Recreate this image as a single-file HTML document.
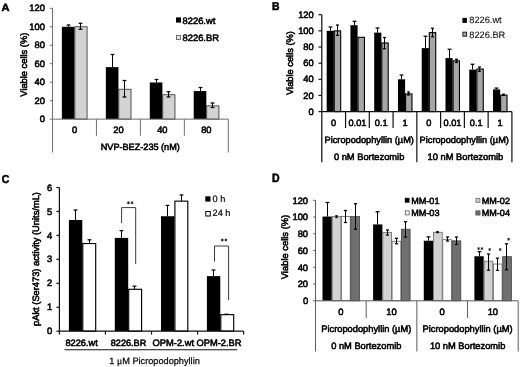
<!DOCTYPE html>
<html><head><meta charset="utf-8"><title>Figure</title>
<style>
html,body{margin:0;padding:0;background:#fff;}
body{width:520px;height:367px;overflow:hidden;font-family:"Liberation Sans", sans-serif;}
svg{display:block;filter:blur(0.35px);font-family:"Liberation Sans", sans-serif;text-rendering:geometricPrecision;}
text{stroke:#000;stroke-width:0.55px;}
</style></head><body>
<svg width="520" height="367" viewBox="0 0 520 367">
<rect x="0" y="0" width="520" height="367" fill="#fff"/>
<line x1="68.50" y1="25.00" x2="68.50" y2="26.78" stroke="#000" stroke-width="1.05"/>
<line x1="66.60" y1="25.00" x2="70.40" y2="25.00" stroke="#000" stroke-width="1.26"/>
<rect x="61.87" y="26.78" width="12.60" height="92.38" fill="#000"/>
<rect x="74.88" y="26.78" width="12.20" height="92.38" fill="#d3d3d3" stroke="#222" stroke-width="0.75"/>
<line x1="80.50" y1="23.25" x2="80.50" y2="29.25" stroke="#000" stroke-width="1.05"/>
<line x1="78.60" y1="23.25" x2="82.40" y2="23.25" stroke="#000" stroke-width="1.26"/>
<line x1="78.60" y1="29.25" x2="82.40" y2="29.25" stroke="#000" stroke-width="1.26"/>
<line x1="112.50" y1="54.50" x2="112.50" y2="67.14" stroke="#000" stroke-width="1.05"/>
<line x1="110.60" y1="54.50" x2="114.40" y2="54.50" stroke="#000" stroke-width="1.26"/>
<rect x="105.83" y="67.14" width="12.60" height="52.01" fill="#000"/>
<rect x="118.83" y="89.22" width="12.20" height="29.93" fill="#d3d3d3" stroke="#222" stroke-width="0.75"/>
<line x1="124.50" y1="80.50" x2="124.50" y2="97.00" stroke="#000" stroke-width="1.05"/>
<line x1="122.60" y1="80.50" x2="126.40" y2="80.50" stroke="#000" stroke-width="1.26"/>
<line x1="122.60" y1="97.00" x2="126.40" y2="97.00" stroke="#000" stroke-width="1.26"/>
<line x1="156.50" y1="79.50" x2="156.50" y2="82.48" stroke="#000" stroke-width="1.05"/>
<line x1="154.60" y1="79.50" x2="158.40" y2="79.50" stroke="#000" stroke-width="1.26"/>
<rect x="149.78" y="82.48" width="12.60" height="36.67" fill="#000"/>
<rect x="162.78" y="94.76" width="12.20" height="24.39" fill="#d3d3d3" stroke="#222" stroke-width="0.75"/>
<line x1="168.50" y1="91.75" x2="168.50" y2="97.00" stroke="#000" stroke-width="1.05"/>
<line x1="166.60" y1="91.75" x2="170.40" y2="91.75" stroke="#000" stroke-width="1.26"/>
<line x1="166.60" y1="97.00" x2="170.40" y2="97.00" stroke="#000" stroke-width="1.26"/>
<line x1="200.50" y1="87.50" x2="200.50" y2="91.07" stroke="#000" stroke-width="1.05"/>
<line x1="198.60" y1="87.50" x2="202.40" y2="87.50" stroke="#000" stroke-width="1.26"/>
<rect x="193.73" y="91.07" width="12.60" height="28.08" fill="#000"/>
<rect x="206.73" y="105.85" width="12.20" height="13.30" fill="#d3d3d3" stroke="#222" stroke-width="0.75"/>
<line x1="212.50" y1="103.00" x2="212.50" y2="107.50" stroke="#000" stroke-width="1.05"/>
<line x1="210.60" y1="103.00" x2="214.40" y2="103.00" stroke="#000" stroke-width="1.26"/>
<line x1="210.60" y1="107.50" x2="214.40" y2="107.50" stroke="#000" stroke-width="1.26"/>
<line x1="52.50" y1="8.30" x2="52.50" y2="152.50" stroke="#6e6e6e" stroke-width="1"/>
<line x1="52.50" y1="119.15" x2="228.30" y2="119.15" stroke="#6e6e6e" stroke-width="1"/>
<line x1="228.30" y1="119.15" x2="228.30" y2="152.50" stroke="#6e6e6e" stroke-width="1"/>
<line x1="96.45" y1="119.15" x2="96.45" y2="135.75" stroke="#6e6e6e" stroke-width="1"/>
<line x1="140.40" y1="119.15" x2="140.40" y2="135.75" stroke="#6e6e6e" stroke-width="1"/>
<line x1="184.35" y1="119.15" x2="184.35" y2="135.75" stroke="#6e6e6e" stroke-width="1"/>
<line x1="49.80" y1="119.15" x2="52.50" y2="119.15" stroke="#6e6e6e" stroke-width="1"/>
<text x="45.00" y="122.05" font-size="9.4" text-anchor="end" font-weight="normal" fill="#000" >0</text>
<line x1="49.80" y1="100.68" x2="52.50" y2="100.68" stroke="#6e6e6e" stroke-width="1"/>
<text x="45.00" y="103.58" font-size="9.4" text-anchor="end" font-weight="normal" fill="#000" >20</text>
<line x1="49.80" y1="82.20" x2="52.50" y2="82.20" stroke="#6e6e6e" stroke-width="1"/>
<text x="45.00" y="85.10" font-size="9.4" text-anchor="end" font-weight="normal" fill="#000" >40</text>
<line x1="49.80" y1="63.73" x2="52.50" y2="63.73" stroke="#6e6e6e" stroke-width="1"/>
<text x="45.00" y="66.62" font-size="9.4" text-anchor="end" font-weight="normal" fill="#000" >60</text>
<line x1="49.80" y1="45.25" x2="52.50" y2="45.25" stroke="#6e6e6e" stroke-width="1"/>
<text x="45.00" y="48.15" font-size="9.4" text-anchor="end" font-weight="normal" fill="#000" >80</text>
<line x1="49.80" y1="26.78" x2="52.50" y2="26.78" stroke="#6e6e6e" stroke-width="1"/>
<text x="45.00" y="29.68" font-size="9.4" text-anchor="end" font-weight="normal" fill="#000" >100</text>
<line x1="49.80" y1="8.30" x2="52.50" y2="8.30" stroke="#6e6e6e" stroke-width="1"/>
<text x="45.00" y="11.20" font-size="9.4" text-anchor="end" font-weight="normal" fill="#000" >120</text>
<text x="74.47" y="132.70" font-size="9.3" text-anchor="middle" font-weight="normal" fill="#000" >0</text>
<text x="118.43" y="132.70" font-size="9.3" text-anchor="middle" font-weight="normal" fill="#000" >20</text>
<text x="162.38" y="132.70" font-size="9.3" text-anchor="middle" font-weight="normal" fill="#000" >40</text>
<text x="206.33" y="132.70" font-size="9.3" text-anchor="middle" font-weight="normal" fill="#000" >80</text>
<text x="140.30" y="150.00" font-size="9.15" text-anchor="middle" font-weight="normal" fill="#000" >NVP-BEZ-235 (nM)</text>
<rect x="176.00" y="17.40" width="5.00" height="5.20" fill="#000"/>
<text x="182.50" y="23.60" font-size="9.4" text-anchor="start" font-weight="normal" fill="#000" >8226.wt</text>
<rect x="176.50" y="35.30" width="3.90" height="4.30" fill="#dedede" stroke="#555" stroke-width="0.8"/>
<text x="182.50" y="40.70" font-size="9.4" text-anchor="start" font-weight="normal" fill="#000" >8226.BR</text>
<text transform="translate(27.30,64.70) rotate(-90)" font-size="9.3" text-anchor="middle" fill="#000">Viable cells (%)</text>
<text x="1.40" y="10.60" font-size="10.6" text-anchor="start" font-weight="bold" fill="#000" textLength="8.0" lengthAdjust="spacingAndGlyphs">A</text>
<line x1="330.50" y1="27.00" x2="330.50" y2="30.85" stroke="#000" stroke-width="1.05"/>
<line x1="328.60" y1="27.00" x2="332.40" y2="27.00" stroke="#000" stroke-width="1.26"/>
<rect x="326.68" y="30.85" width="7.15" height="80.75" fill="#000"/>
<rect x="334.28" y="30.85" width="6.40" height="80.75" fill="#a6a6a6" stroke="#000" stroke-width="1.1"/>
<line x1="337.50" y1="25.00" x2="337.50" y2="35.40" stroke="#000" stroke-width="1.05"/>
<line x1="336.00" y1="25.00" x2="339.00" y2="25.00" stroke="#000" stroke-width="1.26"/>
<line x1="336.00" y1="35.40" x2="339.00" y2="35.40" stroke="#000" stroke-width="1.26"/>
<line x1="354.50" y1="21.25" x2="354.50" y2="25.20" stroke="#000" stroke-width="1.05"/>
<line x1="352.60" y1="21.25" x2="356.40" y2="21.25" stroke="#000" stroke-width="1.26"/>
<rect x="350.44" y="25.20" width="7.15" height="86.40" fill="#000"/>
<rect x="358.04" y="37.31" width="6.40" height="74.29" fill="#a6a6a6" stroke="#000" stroke-width="1.1"/>
<line x1="377.50" y1="28.00" x2="377.50" y2="32.63" stroke="#000" stroke-width="1.05"/>
<line x1="375.60" y1="28.00" x2="379.40" y2="28.00" stroke="#000" stroke-width="1.26"/>
<rect x="374.21" y="32.63" width="7.15" height="78.97" fill="#000"/>
<rect x="381.81" y="42.96" width="6.40" height="68.64" fill="#a6a6a6" stroke="#000" stroke-width="1.1"/>
<line x1="384.50" y1="37.50" x2="384.50" y2="48.75" stroke="#000" stroke-width="1.05"/>
<line x1="383.00" y1="37.50" x2="386.00" y2="37.50" stroke="#000" stroke-width="1.26"/>
<line x1="383.00" y1="48.75" x2="386.00" y2="48.75" stroke="#000" stroke-width="1.26"/>
<line x1="401.50" y1="75.00" x2="401.50" y2="79.30" stroke="#000" stroke-width="1.05"/>
<line x1="399.60" y1="75.00" x2="403.40" y2="75.00" stroke="#000" stroke-width="1.26"/>
<rect x="397.97" y="79.30" width="7.15" height="32.30" fill="#000"/>
<rect x="405.57" y="93.92" width="6.40" height="17.68" fill="#a6a6a6" stroke="#000" stroke-width="1.1"/>
<line x1="408.50" y1="92.00" x2="408.50" y2="95.00" stroke="#000" stroke-width="1.05"/>
<line x1="407.00" y1="92.00" x2="410.00" y2="92.00" stroke="#000" stroke-width="1.26"/>
<line x1="407.00" y1="95.00" x2="410.00" y2="95.00" stroke="#000" stroke-width="1.26"/>
<line x1="425.50" y1="36.25" x2="425.50" y2="48.13" stroke="#000" stroke-width="1.05"/>
<line x1="423.60" y1="36.25" x2="427.40" y2="36.25" stroke="#000" stroke-width="1.26"/>
<rect x="421.73" y="48.13" width="7.15" height="63.47" fill="#000"/>
<rect x="429.33" y="32.63" width="6.40" height="78.97" fill="#a6a6a6" stroke="#000" stroke-width="1.1"/>
<line x1="432.50" y1="28.25" x2="432.50" y2="36.75" stroke="#000" stroke-width="1.05"/>
<line x1="431.00" y1="28.25" x2="434.00" y2="28.25" stroke="#000" stroke-width="1.26"/>
<line x1="431.00" y1="36.75" x2="434.00" y2="36.75" stroke="#000" stroke-width="1.26"/>
<line x1="449.50" y1="49.25" x2="449.50" y2="58.06" stroke="#000" stroke-width="1.05"/>
<line x1="447.60" y1="49.25" x2="451.40" y2="49.25" stroke="#000" stroke-width="1.26"/>
<rect x="445.49" y="58.06" width="7.15" height="53.54" fill="#000"/>
<rect x="453.09" y="60.81" width="6.40" height="50.79" fill="#a6a6a6" stroke="#000" stroke-width="1.1"/>
<line x1="456.50" y1="59.25" x2="456.50" y2="62.50" stroke="#000" stroke-width="1.05"/>
<line x1="455.00" y1="59.25" x2="458.00" y2="59.25" stroke="#000" stroke-width="1.26"/>
<line x1="455.00" y1="62.50" x2="458.00" y2="62.50" stroke="#000" stroke-width="1.26"/>
<line x1="472.50" y1="64.25" x2="472.50" y2="69.61" stroke="#000" stroke-width="1.05"/>
<line x1="470.60" y1="64.25" x2="474.40" y2="64.25" stroke="#000" stroke-width="1.26"/>
<rect x="469.26" y="69.61" width="7.15" height="41.99" fill="#000"/>
<rect x="476.86" y="69.04" width="6.40" height="42.56" fill="#a6a6a6" stroke="#000" stroke-width="1.1"/>
<line x1="479.50" y1="67.00" x2="479.50" y2="71.25" stroke="#000" stroke-width="1.05"/>
<line x1="478.00" y1="67.00" x2="481.00" y2="67.00" stroke="#000" stroke-width="1.26"/>
<line x1="478.00" y1="71.25" x2="481.00" y2="71.25" stroke="#000" stroke-width="1.26"/>
<line x1="496.50" y1="88.10" x2="496.50" y2="89.39" stroke="#000" stroke-width="1.05"/>
<line x1="494.60" y1="88.10" x2="498.40" y2="88.10" stroke="#000" stroke-width="1.26"/>
<rect x="493.02" y="89.39" width="7.15" height="22.21" fill="#000"/>
<rect x="500.62" y="95.13" width="6.40" height="16.47" fill="#a6a6a6" stroke="#000" stroke-width="1.1"/>
<line x1="503.50" y1="94.20" x2="503.50" y2="95.40" stroke="#000" stroke-width="1.05"/>
<line x1="502.00" y1="94.20" x2="505.00" y2="94.20" stroke="#000" stroke-width="1.26"/>
<line x1="502.00" y1="95.40" x2="505.00" y2="95.40" stroke="#000" stroke-width="1.26"/>
<line x1="321.80" y1="14.70" x2="321.80" y2="162.30" stroke="#111" stroke-width="1.25"/>
<line x1="321.80" y1="111.60" x2="511.90" y2="111.60" stroke="#111" stroke-width="1.25"/>
<line x1="345.56" y1="111.60" x2="345.56" y2="128.00" stroke="#111" stroke-width="1.2"/>
<line x1="369.32" y1="111.60" x2="369.32" y2="128.00" stroke="#111" stroke-width="1.2"/>
<line x1="393.09" y1="111.60" x2="393.09" y2="128.00" stroke="#111" stroke-width="1.2"/>
<line x1="416.85" y1="111.60" x2="416.85" y2="162.30" stroke="#111" stroke-width="1.2"/>
<line x1="440.61" y1="111.60" x2="440.61" y2="128.00" stroke="#111" stroke-width="1.2"/>
<line x1="464.38" y1="111.60" x2="464.38" y2="128.00" stroke="#111" stroke-width="1.2"/>
<line x1="488.14" y1="111.60" x2="488.14" y2="128.00" stroke="#111" stroke-width="1.2"/>
<line x1="511.90" y1="111.60" x2="511.90" y2="162.30" stroke="#111" stroke-width="1.2"/>
<line x1="318.50" y1="111.60" x2="321.80" y2="111.60" stroke="#111" stroke-width="1.2"/>
<text x="313.80" y="114.70" font-size="9.4" text-anchor="end" font-weight="normal" fill="#000" >0</text>
<line x1="318.50" y1="95.45" x2="321.80" y2="95.45" stroke="#111" stroke-width="1.2"/>
<text x="313.80" y="98.55" font-size="9.4" text-anchor="end" font-weight="normal" fill="#000" >20</text>
<line x1="318.50" y1="79.30" x2="321.80" y2="79.30" stroke="#111" stroke-width="1.2"/>
<text x="313.80" y="82.40" font-size="9.4" text-anchor="end" font-weight="normal" fill="#000" >40</text>
<line x1="318.50" y1="63.15" x2="321.80" y2="63.15" stroke="#111" stroke-width="1.2"/>
<text x="313.80" y="66.25" font-size="9.4" text-anchor="end" font-weight="normal" fill="#000" >60</text>
<line x1="318.50" y1="47.00" x2="321.80" y2="47.00" stroke="#111" stroke-width="1.2"/>
<text x="313.80" y="50.10" font-size="9.4" text-anchor="end" font-weight="normal" fill="#000" >80</text>
<line x1="318.50" y1="30.85" x2="321.80" y2="30.85" stroke="#111" stroke-width="1.2"/>
<text x="313.80" y="33.95" font-size="9.4" text-anchor="end" font-weight="normal" fill="#000" >100</text>
<line x1="318.50" y1="14.70" x2="321.80" y2="14.70" stroke="#111" stroke-width="1.2"/>
<text x="313.80" y="17.80" font-size="9.4" text-anchor="end" font-weight="normal" fill="#000" >120</text>
<text x="333.68" y="125.70" font-size="9.2" text-anchor="middle" font-weight="normal" fill="#000" >0</text>
<text x="357.44" y="125.70" font-size="9.2" text-anchor="middle" font-weight="normal" fill="#000" >0.01</text>
<text x="381.21" y="125.70" font-size="9.2" text-anchor="middle" font-weight="normal" fill="#000" >0.1</text>
<text x="404.97" y="125.70" font-size="9.2" text-anchor="middle" font-weight="normal" fill="#000" >1</text>
<text x="428.73" y="125.70" font-size="9.2" text-anchor="middle" font-weight="normal" fill="#000" >0</text>
<text x="452.49" y="125.70" font-size="9.2" text-anchor="middle" font-weight="normal" fill="#000" >0.01</text>
<text x="476.26" y="125.70" font-size="9.2" text-anchor="middle" font-weight="normal" fill="#000" >0.1</text>
<text x="500.02" y="125.70" font-size="9.2" text-anchor="middle" font-weight="normal" fill="#000" >1</text>
<text x="369.22" y="142.80" font-size="9.22" text-anchor="middle" font-weight="normal" fill="#000" >Picropodophyllin (µM)</text>
<text x="369.12" y="160.35" font-size="9.32" text-anchor="middle" font-weight="normal" fill="#000" >0 nM Bortezomib</text>
<text x="464.27" y="142.80" font-size="9.22" text-anchor="middle" font-weight="normal" fill="#000" >Picropodophyllin (µM)</text>
<text x="465.38" y="160.35" font-size="9.32" text-anchor="middle" font-weight="normal" fill="#000" >10 nM Bortezomib</text>
<rect x="462.40" y="17.90" width="4.50" height="5.00" fill="#000"/>
<text x="469.30" y="23.30" font-size="9.25" text-anchor="start" font-weight="normal" fill="#222" style="stroke-width:0.12px">8226.wt</text>
<rect x="462.90" y="32.20" width="3.70" height="4.00" fill="#a9a9a9" stroke="#222" stroke-width="1.0"/>
<text x="469.30" y="37.55" font-size="9.25" text-anchor="start" font-weight="normal" fill="#222" style="stroke-width:0.12px">8226.BR</text>
<text transform="translate(293.00,63.00) rotate(-90)" font-size="9.3" text-anchor="middle" fill="#000">Viable cells (%)</text>
<text x="272.10" y="10.40" font-size="11.3" text-anchor="start" font-weight="bold" fill="#000" textLength="7.5" lengthAdjust="spacingAndGlyphs">B</text>
<line x1="75.50" y1="210.00" x2="75.50" y2="219.95" stroke="#000" stroke-width="1.05"/>
<line x1="73.60" y1="210.00" x2="77.40" y2="210.00" stroke="#000" stroke-width="1.26"/>
<line x1="89.50" y1="239.80" x2="89.50" y2="243.54" stroke="#000" stroke-width="1.05"/>
<line x1="87.60" y1="239.80" x2="91.40" y2="239.80" stroke="#000" stroke-width="1.26"/>
<rect x="68.90" y="219.95" width="13.40" height="111.25" fill="#000"/>
<rect x="82.80" y="243.54" width="12.90" height="87.66" fill="#fff" stroke="#000" stroke-width="1.15"/>
<line x1="121.50" y1="230.60" x2="121.50" y2="237.91" stroke="#000" stroke-width="1.05"/>
<line x1="119.60" y1="230.60" x2="123.40" y2="230.60" stroke="#000" stroke-width="1.26"/>
<line x1="134.50" y1="286.20" x2="134.50" y2="289.29" stroke="#000" stroke-width="1.05"/>
<line x1="132.60" y1="286.20" x2="136.40" y2="286.20" stroke="#000" stroke-width="1.26"/>
<rect x="114.80" y="237.91" width="13.40" height="93.29" fill="#000"/>
<rect x="128.70" y="289.29" width="12.90" height="41.91" fill="#fff" stroke="#000" stroke-width="1.15"/>
<line x1="167.50" y1="205.40" x2="167.50" y2="216.24" stroke="#000" stroke-width="1.05"/>
<line x1="165.60" y1="205.40" x2="169.40" y2="205.40" stroke="#000" stroke-width="1.26"/>
<line x1="181.50" y1="195.00" x2="181.50" y2="201.15" stroke="#000" stroke-width="1.05"/>
<line x1="179.60" y1="195.00" x2="183.40" y2="195.00" stroke="#000" stroke-width="1.26"/>
<rect x="161.00" y="216.24" width="13.40" height="114.96" fill="#000"/>
<rect x="174.90" y="201.15" width="12.90" height="130.05" fill="#fff" stroke="#000" stroke-width="1.15"/>
<line x1="213.50" y1="270.00" x2="213.50" y2="276.12" stroke="#000" stroke-width="1.05"/>
<line x1="211.60" y1="270.00" x2="215.40" y2="270.00" stroke="#000" stroke-width="1.26"/>
<line x1="226.50" y1="314.20" x2="226.50" y2="314.67" stroke="#000" stroke-width="1.05"/>
<line x1="224.60" y1="314.20" x2="228.40" y2="314.20" stroke="#000" stroke-width="1.26"/>
<rect x="206.90" y="276.12" width="13.40" height="55.08" fill="#000"/>
<rect x="220.80" y="314.67" width="12.90" height="16.53" fill="#fff" stroke="#000" stroke-width="1.15"/>
<line x1="59.40" y1="187.50" x2="59.40" y2="331.20" stroke="#111" stroke-width="1.25"/>
<line x1="59.40" y1="331.20" x2="243.60" y2="331.20" stroke="#111" stroke-width="1.25"/>
<line x1="59.40" y1="331.20" x2="59.40" y2="334.60" stroke="#111" stroke-width="1.2"/>
<line x1="105.45" y1="331.20" x2="105.45" y2="334.60" stroke="#111" stroke-width="1.2"/>
<line x1="151.50" y1="331.20" x2="151.50" y2="334.60" stroke="#111" stroke-width="1.2"/>
<line x1="197.55" y1="331.20" x2="197.55" y2="334.60" stroke="#111" stroke-width="1.2"/>
<line x1="243.60" y1="331.20" x2="243.60" y2="334.60" stroke="#111" stroke-width="1.2"/>
<line x1="56.40" y1="331.20" x2="59.40" y2="331.20" stroke="#111" stroke-width="1.2"/>
<text x="52.10" y="334.30" font-size="9.4" text-anchor="end" font-weight="normal" fill="#000" >0</text>
<line x1="56.40" y1="307.25" x2="59.40" y2="307.25" stroke="#111" stroke-width="1.2"/>
<text x="52.10" y="310.35" font-size="9.4" text-anchor="end" font-weight="normal" fill="#000" >1</text>
<line x1="56.40" y1="283.30" x2="59.40" y2="283.30" stroke="#111" stroke-width="1.2"/>
<text x="52.10" y="286.40" font-size="9.4" text-anchor="end" font-weight="normal" fill="#000" >2</text>
<line x1="56.40" y1="259.35" x2="59.40" y2="259.35" stroke="#111" stroke-width="1.2"/>
<text x="52.10" y="262.45" font-size="9.4" text-anchor="end" font-weight="normal" fill="#000" >3</text>
<line x1="56.40" y1="235.40" x2="59.40" y2="235.40" stroke="#111" stroke-width="1.2"/>
<text x="52.10" y="238.50" font-size="9.4" text-anchor="end" font-weight="normal" fill="#000" >4</text>
<line x1="56.40" y1="211.45" x2="59.40" y2="211.45" stroke="#111" stroke-width="1.2"/>
<text x="52.10" y="214.55" font-size="9.4" text-anchor="end" font-weight="normal" fill="#000" >5</text>
<line x1="56.40" y1="187.50" x2="59.40" y2="187.50" stroke="#111" stroke-width="1.2"/>
<text x="52.10" y="190.60" font-size="9.4" text-anchor="end" font-weight="normal" fill="#000" >6</text>
<text x="81.60" y="345.50" font-size="9.25" text-anchor="middle" font-weight="normal" fill="#000" >8226.wt</text>
<text x="128.50" y="345.50" font-size="9.15" text-anchor="middle" font-weight="normal" fill="#000" >8226.BR</text>
<text x="173.30" y="345.50" font-size="9.35" text-anchor="middle" font-weight="normal" fill="#000" >OPM-2.wt</text>
<text x="219.00" y="345.50" font-size="9.3" text-anchor="middle" font-weight="normal" fill="#000" >OPM-2.BR</text>
<line x1="64.60" y1="349.70" x2="237.30" y2="349.70" stroke="#111" stroke-width="1.1"/>
<text x="154.6" y="363.60" font-size="9.2" text-anchor="middle" fill="#111" style="stroke-width:0.25px">1 <tspan font-family="Liberation Serif, serif" font-size="9.6">μ</tspan>M Picropodophyllin</text>
<path d="M121.6 223 V207.6 H135.7 V264" fill="none" stroke="#222" stroke-width="0.9"/>
<path d="M214.5 261.5 V246 H228.6 V300" fill="none" stroke="#222" stroke-width="0.9"/>
<line x1="128.40" y1="201.35" x2="128.40" y2="204.25" stroke="#111" stroke-width="0.85"/>
<line x1="129.66" y1="202.08" x2="127.14" y2="203.53" stroke="#111" stroke-width="0.85"/>
<line x1="129.66" y1="203.53" x2="127.14" y2="202.08" stroke="#111" stroke-width="0.85"/>
<line x1="132.00" y1="201.35" x2="132.00" y2="204.25" stroke="#111" stroke-width="0.85"/>
<line x1="133.26" y1="202.08" x2="130.74" y2="203.53" stroke="#111" stroke-width="0.85"/>
<line x1="133.26" y1="203.53" x2="130.74" y2="202.08" stroke="#111" stroke-width="0.85"/>
<line x1="222.30" y1="238.55" x2="222.30" y2="241.45" stroke="#111" stroke-width="0.85"/>
<line x1="223.56" y1="239.28" x2="221.04" y2="240.72" stroke="#111" stroke-width="0.85"/>
<line x1="223.56" y1="240.72" x2="221.04" y2="239.28" stroke="#111" stroke-width="0.85"/>
<line x1="225.90" y1="238.55" x2="225.90" y2="241.45" stroke="#111" stroke-width="0.85"/>
<line x1="227.16" y1="239.28" x2="224.64" y2="240.72" stroke="#111" stroke-width="0.85"/>
<line x1="227.16" y1="240.72" x2="224.64" y2="239.28" stroke="#111" stroke-width="0.85"/>
<rect x="205.30" y="196.30" width="5.20" height="5.30" fill="#000"/>
<text x="212.60" y="202.20" font-size="9.2" text-anchor="start" font-weight="normal" fill="#000" style="stroke-width:0.2px">0 h</text>
<rect x="205.80" y="211.50" width="4.50" height="4.50" fill="#fff" stroke="#000" stroke-width="1.0"/>
<text x="212.60" y="216.40" font-size="9.2" text-anchor="start" font-weight="normal" fill="#000" style="stroke-width:0.2px">24 h</text>
<text transform="translate(38.50,259.00) rotate(-90)" font-size="9.3" text-anchor="middle" fill="#000">pAkt (Ser473) activity (Units/mL)</text>
<text x="1.70" y="182.50" font-size="11.6" text-anchor="start" font-weight="bold" fill="#000" textLength="7.6" lengthAdjust="spacingAndGlyphs">C</text>
<line x1="327.50" y1="202.50" x2="327.50" y2="216.55" stroke="#000" stroke-width="1.05"/>
<line x1="325.60" y1="202.50" x2="329.40" y2="202.50" stroke="#000" stroke-width="1.26"/>
<rect x="322.50" y="216.55" width="9.30" height="84.25" fill="#000"/>
<rect x="332.20" y="216.55" width="8.70" height="84.25" fill="#d2d2d2" stroke="#666" stroke-width="0.8"/>
<line x1="336.50" y1="215.75" x2="336.50" y2="217.50" stroke="#000" stroke-width="1.05"/>
<line x1="335.30" y1="215.75" x2="337.70" y2="215.75" stroke="#000" stroke-width="1.26"/>
<line x1="335.30" y1="217.50" x2="337.70" y2="217.50" stroke="#000" stroke-width="1.26"/>
<rect x="341.50" y="216.55" width="8.70" height="84.25" fill="#fff" stroke="#666" stroke-width="0.8"/>
<line x1="345.50" y1="210.50" x2="345.50" y2="222.50" stroke="#000" stroke-width="1.05"/>
<line x1="343.90" y1="210.50" x2="347.10" y2="210.50" stroke="#000" stroke-width="1.26"/>
<line x1="343.90" y1="222.50" x2="347.10" y2="222.50" stroke="#000" stroke-width="1.26"/>
<rect x="350.80" y="216.55" width="8.70" height="84.25" fill="#6f6f6f" stroke="#444" stroke-width="0.8"/>
<line x1="355.50" y1="203.75" x2="355.50" y2="229.25" stroke="#000" stroke-width="1.05"/>
<line x1="353.90" y1="203.75" x2="357.10" y2="203.75" stroke="#000" stroke-width="1.26"/>
<line x1="353.90" y1="229.25" x2="357.10" y2="229.25" stroke="#000" stroke-width="1.26"/>
<line x1="377.50" y1="211.75" x2="377.50" y2="224.42" stroke="#000" stroke-width="1.05"/>
<line x1="375.60" y1="211.75" x2="379.40" y2="211.75" stroke="#000" stroke-width="1.26"/>
<rect x="373.10" y="224.42" width="9.30" height="76.38" fill="#000"/>
<rect x="382.80" y="232.54" width="8.70" height="68.26" fill="#d2d2d2" stroke="#666" stroke-width="0.8"/>
<line x1="387.50" y1="230.00" x2="387.50" y2="235.00" stroke="#000" stroke-width="1.05"/>
<line x1="385.90" y1="230.00" x2="389.10" y2="230.00" stroke="#000" stroke-width="1.26"/>
<line x1="385.90" y1="235.00" x2="389.10" y2="235.00" stroke="#000" stroke-width="1.26"/>
<rect x="392.10" y="241.25" width="8.70" height="59.55" fill="#fff" stroke="#666" stroke-width="0.8"/>
<line x1="396.50" y1="238.25" x2="396.50" y2="243.75" stroke="#000" stroke-width="1.05"/>
<line x1="394.90" y1="238.25" x2="398.10" y2="238.25" stroke="#000" stroke-width="1.26"/>
<line x1="394.90" y1="243.75" x2="398.10" y2="243.75" stroke="#000" stroke-width="1.26"/>
<rect x="401.40" y="229.19" width="8.70" height="71.61" fill="#6f6f6f" stroke="#444" stroke-width="0.8"/>
<line x1="405.50" y1="221.75" x2="405.50" y2="237.00" stroke="#000" stroke-width="1.05"/>
<line x1="403.90" y1="221.75" x2="407.10" y2="221.75" stroke="#000" stroke-width="1.26"/>
<line x1="403.90" y1="237.00" x2="407.10" y2="237.00" stroke="#000" stroke-width="1.26"/>
<line x1="428.50" y1="236.90" x2="428.50" y2="240.75" stroke="#000" stroke-width="1.05"/>
<line x1="426.60" y1="236.90" x2="430.40" y2="236.90" stroke="#000" stroke-width="1.26"/>
<rect x="423.80" y="240.75" width="9.30" height="60.05" fill="#000"/>
<rect x="433.50" y="232.29" width="8.70" height="68.51" fill="#d2d2d2" stroke="#666" stroke-width="0.8"/>
<line x1="437.50" y1="231.60" x2="437.50" y2="232.60" stroke="#000" stroke-width="1.05"/>
<line x1="436.30" y1="231.60" x2="438.70" y2="231.60" stroke="#000" stroke-width="1.26"/>
<line x1="436.30" y1="232.60" x2="438.70" y2="232.60" stroke="#000" stroke-width="1.26"/>
<rect x="442.80" y="239.66" width="8.70" height="61.14" fill="#fff" stroke="#666" stroke-width="0.8"/>
<line x1="447.50" y1="237.00" x2="447.50" y2="241.00" stroke="#000" stroke-width="1.05"/>
<line x1="445.90" y1="237.00" x2="449.10" y2="237.00" stroke="#000" stroke-width="1.26"/>
<line x1="445.90" y1="241.00" x2="449.10" y2="241.00" stroke="#000" stroke-width="1.26"/>
<rect x="452.10" y="240.84" width="8.70" height="59.97" fill="#6f6f6f" stroke="#444" stroke-width="0.8"/>
<line x1="456.50" y1="237.00" x2="456.50" y2="244.50" stroke="#000" stroke-width="1.05"/>
<line x1="454.90" y1="237.00" x2="458.10" y2="237.00" stroke="#000" stroke-width="1.26"/>
<line x1="454.90" y1="244.50" x2="458.10" y2="244.50" stroke="#000" stroke-width="1.26"/>
<line x1="479.50" y1="251.60" x2="479.50" y2="256.25" stroke="#000" stroke-width="1.05"/>
<line x1="477.60" y1="251.60" x2="481.40" y2="251.60" stroke="#000" stroke-width="1.26"/>
<rect x="474.40" y="256.25" width="9.30" height="44.56" fill="#000"/>
<rect x="484.10" y="261.19" width="8.70" height="39.61" fill="#d2d2d2" stroke="#666" stroke-width="0.8"/>
<line x1="488.50" y1="254.00" x2="488.50" y2="270.20" stroke="#000" stroke-width="1.05"/>
<line x1="486.90" y1="254.00" x2="490.10" y2="254.00" stroke="#000" stroke-width="1.26"/>
<line x1="486.90" y1="270.20" x2="490.10" y2="270.20" stroke="#000" stroke-width="1.26"/>
<rect x="493.40" y="264.03" width="8.70" height="36.77" fill="#fff" stroke="#666" stroke-width="0.8"/>
<line x1="497.50" y1="258.20" x2="497.50" y2="270.40" stroke="#000" stroke-width="1.05"/>
<line x1="495.90" y1="258.20" x2="499.10" y2="258.20" stroke="#000" stroke-width="1.26"/>
<line x1="495.90" y1="270.40" x2="499.10" y2="270.40" stroke="#000" stroke-width="1.26"/>
<rect x="502.70" y="256.66" width="8.70" height="44.14" fill="#6f6f6f" stroke="#444" stroke-width="0.8"/>
<line x1="506.50" y1="243.80" x2="506.50" y2="269.80" stroke="#000" stroke-width="1.05"/>
<line x1="504.90" y1="243.80" x2="508.10" y2="243.80" stroke="#000" stroke-width="1.26"/>
<line x1="504.90" y1="269.80" x2="508.10" y2="269.80" stroke="#000" stroke-width="1.26"/>
<line x1="315.50" y1="200.30" x2="315.50" y2="351.50" stroke="#5c5c5c" stroke-width="1"/>
<line x1="315.50" y1="300.80" x2="518.20" y2="300.80" stroke="#5c5c5c" stroke-width="1"/>
<line x1="366.18" y1="300.80" x2="366.18" y2="318.00" stroke="#5c5c5c" stroke-width="1"/>
<line x1="416.85" y1="300.80" x2="416.85" y2="351.50" stroke="#5c5c5c" stroke-width="1"/>
<line x1="467.53" y1="300.80" x2="467.53" y2="318.00" stroke="#5c5c5c" stroke-width="1"/>
<line x1="518.20" y1="300.80" x2="518.20" y2="351.50" stroke="#5c5c5c" stroke-width="1"/>
<line x1="313.20" y1="300.80" x2="315.50" y2="300.80" stroke="#5c5c5c" stroke-width="1"/>
<text x="308.10" y="304.20" font-size="9.4" text-anchor="end" font-weight="normal" fill="#000" >0</text>
<line x1="313.20" y1="284.05" x2="315.50" y2="284.05" stroke="#5c5c5c" stroke-width="1"/>
<text x="308.10" y="287.45" font-size="9.4" text-anchor="end" font-weight="normal" fill="#000" >20</text>
<line x1="313.20" y1="267.30" x2="315.50" y2="267.30" stroke="#5c5c5c" stroke-width="1"/>
<text x="308.10" y="270.70" font-size="9.4" text-anchor="end" font-weight="normal" fill="#000" >40</text>
<line x1="313.20" y1="250.55" x2="315.50" y2="250.55" stroke="#5c5c5c" stroke-width="1"/>
<text x="308.10" y="253.95" font-size="9.4" text-anchor="end" font-weight="normal" fill="#000" >60</text>
<line x1="313.20" y1="233.80" x2="315.50" y2="233.80" stroke="#5c5c5c" stroke-width="1"/>
<text x="308.10" y="237.20" font-size="9.4" text-anchor="end" font-weight="normal" fill="#000" >80</text>
<line x1="313.20" y1="217.05" x2="315.50" y2="217.05" stroke="#5c5c5c" stroke-width="1"/>
<text x="308.10" y="220.45" font-size="9.4" text-anchor="end" font-weight="normal" fill="#000" >100</text>
<line x1="313.20" y1="200.30" x2="315.50" y2="200.30" stroke="#5c5c5c" stroke-width="1"/>
<text x="308.10" y="203.70" font-size="9.4" text-anchor="end" font-weight="normal" fill="#000" >120</text>
<text x="340.84" y="315.20" font-size="9.4" text-anchor="middle" font-weight="normal" fill="#000" >0</text>
<text x="391.51" y="315.20" font-size="9.4" text-anchor="middle" font-weight="normal" fill="#000" >10</text>
<text x="442.19" y="315.20" font-size="9.4" text-anchor="middle" font-weight="normal" fill="#000" >0</text>
<text x="492.86" y="315.20" font-size="9.4" text-anchor="middle" font-weight="normal" fill="#000" >10</text>
<text x="366.28" y="331.50" font-size="9.3" text-anchor="middle" font-weight="normal" fill="#000" >Picropodophyllin (µM)</text>
<text x="366.28" y="348.95" font-size="9.3" text-anchor="middle" font-weight="normal" fill="#000" >0 nM Bortezomib</text>
<text x="467.63" y="331.50" font-size="9.3" text-anchor="middle" font-weight="normal" fill="#000" >Picropodophyllin (µM)</text>
<text x="467.63" y="348.95" font-size="9.3" text-anchor="middle" font-weight="normal" fill="#000" >10 nM Bortezomib</text>
<rect x="404.80" y="197.80" width="4.70" height="4.90" fill="#000"/>
<text x="411.20" y="203.50" font-size="9.1" text-anchor="start" font-weight="normal" fill="#000" >MM-01</text>
<rect x="405.30" y="210.90" width="3.90" height="4.00" fill="#fff" stroke="#555" stroke-width="0.8"/>
<text x="411.20" y="216.00" font-size="9.1" text-anchor="start" font-weight="normal" fill="#000" >MM-03</text>
<rect x="476.00" y="198.30" width="3.90" height="4.00" fill="#d2d2d2" stroke="#666" stroke-width="0.8"/>
<text x="481.70" y="203.50" font-size="9.1" text-anchor="start" font-weight="normal" fill="#000" >MM-02</text>
<rect x="475.80" y="210.80" width="4.30" height="4.30" fill="#6f6f6f" stroke="#444" stroke-width="0.6"/>
<text x="481.70" y="216.00" font-size="9.1" text-anchor="start" font-weight="normal" fill="#000" >MM-04</text>
<line x1="478.60" y1="247.25" x2="478.60" y2="249.95" stroke="#111" stroke-width="0.85"/>
<line x1="479.77" y1="247.92" x2="477.43" y2="249.28" stroke="#111" stroke-width="0.85"/>
<line x1="479.77" y1="249.28" x2="477.43" y2="247.92" stroke="#111" stroke-width="0.85"/>
<line x1="481.90" y1="247.25" x2="481.90" y2="249.95" stroke="#111" stroke-width="0.85"/>
<line x1="483.07" y1="247.92" x2="480.73" y2="249.28" stroke="#111" stroke-width="0.85"/>
<line x1="483.07" y1="249.28" x2="480.73" y2="247.92" stroke="#111" stroke-width="0.85"/>
<line x1="489.70" y1="248.15" x2="489.70" y2="250.85" stroke="#111" stroke-width="0.85"/>
<line x1="490.87" y1="248.82" x2="488.53" y2="250.18" stroke="#111" stroke-width="0.85"/>
<line x1="490.87" y1="250.18" x2="488.53" y2="248.82" stroke="#111" stroke-width="0.85"/>
<line x1="500.20" y1="248.15" x2="500.20" y2="250.85" stroke="#111" stroke-width="0.85"/>
<line x1="501.37" y1="248.82" x2="499.03" y2="250.18" stroke="#111" stroke-width="0.85"/>
<line x1="501.37" y1="250.18" x2="499.03" y2="248.82" stroke="#111" stroke-width="0.85"/>
<line x1="508.60" y1="237.85" x2="508.60" y2="240.55" stroke="#111" stroke-width="0.85"/>
<line x1="509.77" y1="238.52" x2="507.43" y2="239.88" stroke="#111" stroke-width="0.85"/>
<line x1="509.77" y1="239.88" x2="507.43" y2="238.52" stroke="#111" stroke-width="0.85"/>
<text transform="translate(288.20,247.00) rotate(-90)" font-size="9.4" text-anchor="middle" fill="#000">Viable cells (%)</text>
<text x="272.00" y="182.40" font-size="12.0" text-anchor="start" font-weight="bold" fill="#000" textLength="7.6" lengthAdjust="spacingAndGlyphs">D</text>
</svg>
</body></html>
